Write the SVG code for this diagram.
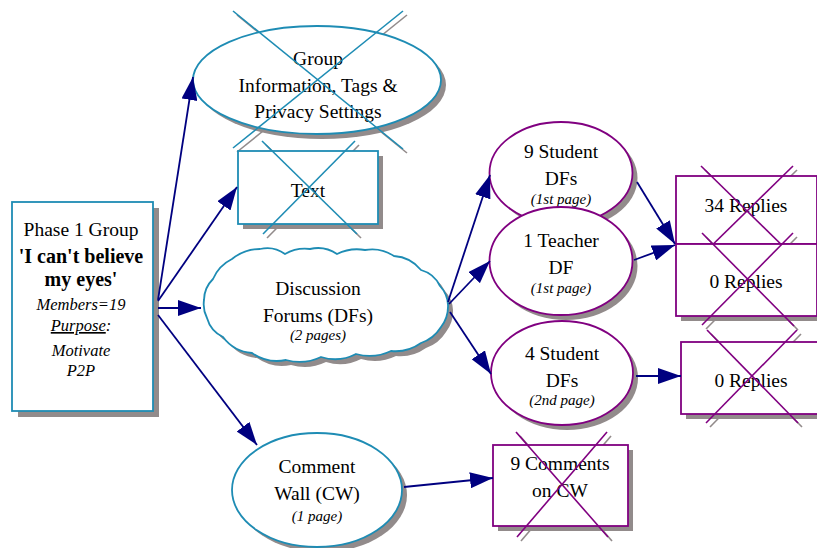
<svg xmlns="http://www.w3.org/2000/svg" width="817" height="548" viewBox="0 0 817 548">
  <defs>
    <style>
      .sh { fill: #928b8b; stroke: none; }
      .shl { stroke: #928b8b; stroke-width: 1.6; fill: none; }
      .bn { fill: #ffffff; stroke: #1e8cb4; stroke-width: 1.8; }
      .pn { fill: #ffffff; stroke: #800080; stroke-width: 1.8; }
      .bx { stroke: #1e8cb4; stroke-width: 1.6; fill: none; }
      .px { stroke: #800080; stroke-width: 1.6; fill: none; }
      .t { font-family: "Liberation Serif", "Times New Roman", serif; font-size: 19.5px; fill: #000000; text-anchor: middle; }
      .b { font-weight: bold; font-size: 20px; }
      .i { font-style: italic; font-size: 15px; }
      .im { font-style: italic; font-size: 16.5px; }
      .c { stroke: #000080; stroke-width: 1.8; fill: none; marker-end: url(#ah); }
    </style>
    <marker id="ah" markerUnits="userSpaceOnUse" markerWidth="24" markerHeight="16" refX="23" refY="8" orient="auto">
      <path d="M0,0 L23,8 L0,16 Z" fill="#000080"/>
    </marker>
    <!-- shallow, slightly irregular cloud outline -->
    <path id="cloud" d="M204,300 A30,30 0 0 1 213,279 A40,40 0 0 1 232,259 A45,45 0 0 1 260,249 A30,30 0 0 1 285,254 A40,40 0 0 1 310,249 A34,34 0 0 1 337,254 A45,45 0 0 1 365,250 A40,40 0 0 1 394,256 A38,38 0 0 1 421,270 A30,30 0 0 1 440,286 A30,30 0 0 1 448,305 A34,34 0 0 1 441,327 A38,38 0 0 1 421,343 A44,44 0 0 1 391,351 A50,50 0 0 1 356,354 A46,46 0 0 1 321,357 A50,50 0 0 1 286,360 A44,44 0 0 1 252,353 A40,40 0 0 1 223,337 A30,30 0 0 1 207,318 A30,30 0 0 1 204,300 Z"/>
  </defs>

  <rect width="817" height="548" fill="#ffffff"/>

  <!-- Phase 1 group summary -->
  <g id="phase1-group">
    <rect class="sh" x="18" y="208" width="141" height="209"/>
    <rect class="bn" x="12" y="202" width="141" height="209"/>
    <text class="t" x="81" y="236">Phase 1 Group</text>
    <text class="t b" x="81" y="263">'I can't believe</text>
    <text class="t b" x="81" y="286">my eyes'</text>
    <text class="t im" x="81" y="310">Members=19</text>
    <text class="t im" x="81" y="331"><tspan text-decoration="underline">Purpose</tspan>:</text>
    <text class="t im" x="81" y="356">Motivate</text>
    <text class="t im" x="81" y="376">P2P</text>
  </g>

  <!-- Group information ellipse, crossed out -->
  <g id="group-info">
    <line class="shl" x1="237" y1="15" x2="407" y2="153"/>
    <line class="shl" x1="407" y1="15" x2="237" y2="152"/>
    <ellipse class="sh" cx="322" cy="85" rx="124" ry="54"/>
    <ellipse class="bn" cx="317" cy="80" rx="124" ry="54"/>
    <text class="t" x="318" y="65">Group</text>
    <text class="t" x="318" y="92">Information, Tags &amp;</text>
    <text class="t" x="318" y="118">Privacy Settings</text>
    <line class="bx" x1="233" y1="11" x2="403" y2="149"/>
    <line class="bx" x1="403" y1="11" x2="233" y2="148"/>
  </g>

  <!-- Text box, crossed out -->
  <g id="text-box">
    <line class="shl" x1="266" y1="145" x2="361" y2="238"/>
    <line class="shl" x1="359" y1="145" x2="267" y2="238"/>
    <rect class="sh" x="243" y="156" width="140" height="73"/>
    <rect class="bn" x="238" y="151" width="140" height="73"/>
    <text class="t" x="308" y="197">Text</text>
    <line class="bx" x1="262" y1="141" x2="357" y2="234"/>
    <line class="bx" x1="355" y1="141" x2="263" y2="234"/>
  </g>

  <!-- Discussion forums cloud -->
  <g id="discussion-forums">
    <use href="#cloud" class="sh" transform="translate(5,5)"/>
    <use href="#cloud" class="bn"/>
    <text class="t" x="318" y="295">Discussion</text>
    <text class="t" x="318" y="322">Forums (DFs)</text>
    <text class="t i" x="318" y="340">(2 pages)</text>
  </g>

  <!-- Comment wall -->
  <g id="comment-wall">
    <ellipse class="sh" cx="322" cy="495" rx="85" ry="57"/>
    <ellipse class="bn" cx="317" cy="490" rx="85" ry="57"/>
    <text class="t" x="317" y="473">Comment</text>
    <text class="t" x="317" y="500">Wall (CW)</text>
    <text class="t i" x="317" y="521">(1 page)</text>
  </g>

  <!-- Student forums, first page -->
  <g id="student-dfs-1">
    <ellipse class="sh" cx="566" cy="178" rx="71.5" ry="51"/>
    <ellipse class="pn" cx="561" cy="173" rx="71.5" ry="51"/>
    <text class="t" x="561" y="158">9 Student</text>
    <text class="t" x="561" y="185">DFs</text>
    <text class="t i" x="561" y="204">(1st page)</text>
  </g>

  <!-- Teacher forum -->
  <g id="teacher-df">
    <ellipse class="sh" cx="566" cy="266" rx="71.5" ry="54"/>
    <ellipse class="pn" cx="561" cy="261" rx="71.5" ry="54"/>
    <text class="t" x="561" y="247">1 Teacher</text>
    <text class="t" x="561" y="274">DF</text>
    <text class="t i" x="561" y="293">(1st page)</text>
  </g>

  <!-- Student forums, second page -->
  <g id="student-dfs-2">
    <ellipse class="sh" cx="567" cy="378" rx="71" ry="52"/>
    <ellipse class="pn" cx="562" cy="373" rx="71" ry="52"/>
    <text class="t" x="562" y="360">4 Student</text>
    <text class="t" x="562" y="387">DFs</text>
    <text class="t i" x="562" y="405">(2nd page)</text>
  </g>

  <!-- Reply counts -->
  <g id="replies-34">
    <line class="shl" x1="705" y1="170" x2="797" y2="260"/>
    <line class="shl" x1="797" y1="170" x2="705" y2="260"/>
    <rect class="sh" x="681" y="181" width="141" height="68"/>
    <rect class="pn" x="676" y="176" width="141" height="68"/>
    <text class="t" x="746" y="212">34 Replies</text>
    <line class="px" x1="701" y1="166" x2="793" y2="256"/>
    <line class="px" x1="793" y1="166" x2="701" y2="256"/>
  </g>

  <g id="replies-0-teacher">
    <line class="shl" x1="706" y1="237" x2="798" y2="330"/>
    <line class="shl" x1="797" y1="237" x2="706" y2="329"/>
    <rect class="sh" x="681" y="249" width="141" height="72"/>
    <rect class="pn" x="676" y="244" width="141" height="72"/>
    <text class="t" x="746" y="288">0 Replies</text>
    <line class="px" x1="702" y1="233" x2="794" y2="326"/>
    <line class="px" x1="793" y1="233" x2="702" y2="325"/>
  </g>

  <g id="replies-0-second">
    <line class="shl" x1="711" y1="334" x2="802" y2="427"/>
    <line class="shl" x1="801" y1="334" x2="710" y2="427"/>
    <rect class="sh" x="686" y="347" width="140" height="72"/>
    <rect class="pn" x="681" y="342" width="140" height="72"/>
    <text class="t" x="751" y="387">0 Replies</text>
    <line class="px" x1="707" y1="330" x2="798" y2="423"/>
    <line class="px" x1="797" y1="330" x2="706" y2="423"/>
  </g>

  <!-- Comment count -->
  <g id="comments-9">
    <line class="shl" x1="520" y1="436" x2="612" y2="541"/>
    <line class="shl" x1="611" y1="436" x2="521" y2="541"/>
    <rect class="sh" x="498" y="450" width="135" height="81"/>
    <rect class="pn" x="493" y="445" width="135" height="81"/>
    <text class="t" x="560" y="470">9 Comments</text>
    <text class="t" x="560" y="497">on CW</text>
    <line class="px" x1="516" y1="432" x2="608" y2="537"/>
    <line class="px" x1="607" y1="432" x2="517" y2="537"/>
  </g>

  <!-- Connectors -->
  <g id="connectors">
    <line class="c" x1="158" y1="300" x2="193" y2="77"/>
    <line class="c" x1="158" y1="301" x2="237" y2="187"/>
    <line class="c" x1="158" y1="308" x2="201" y2="308"/>
    <line class="c" x1="158" y1="315" x2="257" y2="445"/>
    <line class="c" x1="448" y1="302" x2="490" y2="175"/>
    <line class="c" x1="449" y1="304" x2="490" y2="261"/>
    <line class="c" x1="450" y1="312" x2="491" y2="374"/>
    <line class="c" x1="637" y1="182" x2="675" y2="244"/>
    <line class="c" x1="634" y1="260" x2="675" y2="245"/>
    <line class="c" x1="636" y1="376" x2="681" y2="376"/>
    <line class="c" x1="404" y1="487" x2="493" y2="478"/>
  </g>
</svg>
